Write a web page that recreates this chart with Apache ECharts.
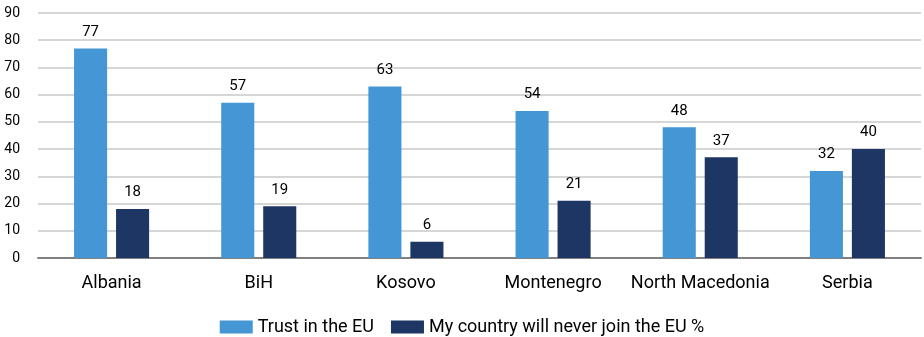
<!DOCTYPE html>
<html><head><meta charset="utf-8">
<script src="https://cdn.jsdelivr.net/npm/echarts@6/dist/echarts.min.js"></script>
<style>html,body{margin:0;padding:0;background:#fff}#c{width:924px;height:337px}</style>
</head><body><div id="c"></div>
<script>
const categories = ["Albania","BiH","Kosovo","Montenegro","North Macedonia","Serbia"];
const trustEU = [77,57,63,54,48,32];
const neverJoin = [18,19,6,21,37,40];
const seriesNames = ["Trust in the EU","My country will never join the EU %"];
const chart = echarts.init(document.getElementById('c'));
const font = 'Roboto';
chart.setOption({
  animation:false,
  textStyle:{fontFamily:font},
  grid:{left:38,right:3,top:13,bottom:79,containLabel:false},
  legend:{top:313,left:'center',itemWidth:33,itemHeight:13,itemGap:17,
    textStyle:{fontFamily:font,fontSize:18,color:'#000'},
    data:seriesNames, icon:'rect'},
  xAxis:{type:'category',data:categories,
    axisLine:{lineStyle:{color:'#808080',width:2}},
    axisTick:{show:false},
    axisLabel:{color:'#000',fontSize:18,margin:16,interval:0,fontFamily:font}},
  yAxis:{type:'value',min:0,max:90,interval:10,
    axisLine:{show:false},axisTick:{show:false},
    splitLine:{lineStyle:{color:'#C8C8C8',width:1.5}},
    axisLabel:{color:'#000',fontSize:14,margin:18,fontFamily:font}},
  series:[
    {name:seriesNames[0],type:'bar',data:trustEU,itemStyle:{color:'#4596D4'},
     barGap:'27%',barCategoryGap:'49%',
     label:{show:true,position:'top',distance:9,color:'#000',fontSize:15,fontFamily:font}},
    {name:seriesNames[1],type:'bar',data:neverJoin,itemStyle:{color:'#1E3664'},
     label:{show:true,position:'top',distance:9,color:'#000',fontSize:15,fontFamily:font}}
  ]
});
</script></body></html>
